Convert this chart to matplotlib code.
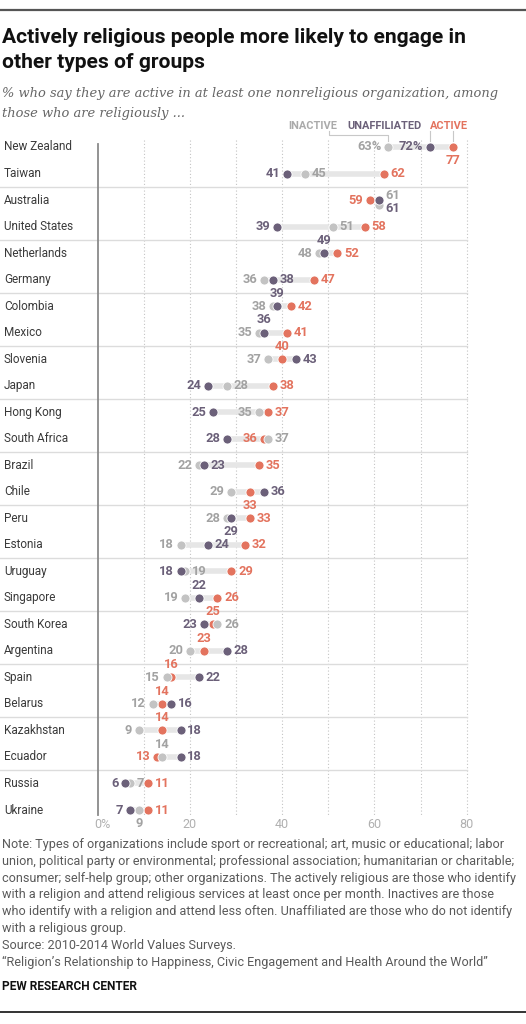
import matplotlib.pyplot as plt

# data (% active in a nonreligious organization)
countries = ["New Zealand", "Taiwan", "Australia", "United States", "Netherlands",
             "Germany", "Colombia", "Mexico", "Slovenia", "Japan", "Hong Kong",
             "South Africa", "Brazil", "Chile", "Peru", "Estonia", "Uruguay",
             "Singapore", "South Korea", "Argentina", "Spain", "Belarus",
             "Kazakhstan", "Ecuador", "Russia", "Ukraine"]
inactive = [63, 45, 61, 51, 48, 36, 38, 35, 37, 28, 35, 37, 22, 29, 28, 18, 19, 19,
            26, 20, 15, 12, 9, 14, 7, 9]
unaffiliated = [72, 41, 61, 39, 49, 38, 39, 36, 43, 24, 25, 28, 23, 36, 29, 24, 18,
                22, 23, 28, 22, 16, 18, 18, 6, 7]
active = [77, 62, 59, 58, 52, 47, 42, 41, 40, 38, 37, 36, 35, 33, 33, 32, 29, 26,
          25, 23, 16, 14, 14, 13, 11, 11]
ticks = [0, 20, 40, 60, 80]
tick_labels = ["0%", "20", "40", "60", "80"]

# where each number sits next to its dot: l/r = left/right, a/b = above/below
pos_inactive = ["l", "r", "ra", "r", "l", "l", "l", "l", "l", "r", "l", "r", "l",
                "l", "l", "l", "r", "l", "r", "l", "l", "l", "l", "a", "r", "b"]
pos_unaff = ["l", "l", "rb", "l", "a", "r", "a", "a", "r", "l", "l", "l", "r",
             "r", "b", "r", "l", "a", "l", "r", "r", "r", "r", "r", "l", "l"]
pos_active = ["b", "r", "l", "r", "r", "r", "r", "r", "a", "r", "r", "l", "r",
              "b", "r", "r", "r", "r", "a", "a", "a", "a", "a", "l", "r", "r"]

GRAY = "#c3c3c3"
GRAY_TXT = "#a2a2a2"
PURPLE = "#6b6079"
RED = "#e3735e"
BAR = "#e6e6e6"

W, H = 526, 1024
PX = 369.2 / 80          # pixels per percentage point
X0 = 97.5                # pixel of 0%
Y0, DY = 147, 26.52      # pixel of first row, row step

fig = plt.figure(figsize=(W / 100, H / 100), dpi=100)
ax = fig.add_axes([0, 0, 1, 1])
ax.set_xlim(-X0 / PX, (W - X0) / PX)
ax.set_ylim((H - Y0) / DY, -Y0 / DY)
ax.axis("off")


def row_of(py):
    return (py - Y0) / DY


def col_of(px):
    return (px - X0) / PX


def fpos(px, py):
    return px / W, 1 - py / H


plt.rcParams["font.family"] = ["Roboto", "DejaVu Sans"]

# frame rules
fig.add_artist(plt.Line2D([0, 1], [1 - 10 / H, 1 - 10 / H], color="#555555", lw=1.6))
fig.add_artist(plt.Line2D([0, 1], [1 - 1012 / H, 1 - 1012 / H], color="#333333", lw=1.4))

# grid
for g in range(10, 81, 10):
    ax.plot([g, g], [row_of(140), row_of(815)], color="#c4c4c4", lw=0.8,
            ls=(0, (1, 2)), zorder=1)
ax.plot([0, 0], [row_of(144), row_of(815)], color="#8a8a8a", lw=1.3, zorder=2)

# group separators
n = len(countries)
for k in range(2, n, 2):
    ax.plot([col_of(0), 80], [k - 0.5, k - 0.5], color="#dcdcdc", lw=1.0, zorder=1)

for t, lab in zip(ticks, tick_labels):
    ax.text(t - (0.8 if t == 0 else 0), row_of(824), lab, ha="left" if t == 0 else "center",
            va="center", fontsize=9, color="#b0b0b0")

offs = {"l": (-4.8, 0, "right"), "r": (4.8, 0, "left"),
        "a": (0, 9.2, "center"), "b": (0, -9.8, "center"),
        "ra": (4.8, 3.2, "left"), "rb": (4.8, -6.0, "left")}

for i, c in enumerate(countries):
    ax.text(col_of(4), i, c, ha="left", va="center", fontsize=8.5, color="#3a3a3a")
    vals = [inactive[i], unaffiliated[i], active[i]]
    ax.plot([min(vals), max(vals)], [i, i], color=BAR, lw=4.0, solid_capstyle="butt", zorder=3)
    gy = i + (0.17 if inactive[i] == unaffiliated[i] else 0)
    ax.plot(active[i], i, "o", ms=6.5, color=RED, mec="white", mew=0.6, zorder=4)
    ax.plot(inactive[i], gy, "o", ms=6.5, color=GRAY, mec="white", mew=0.6, zorder=5)
    ax.plot(unaffiliated[i], i, "o", ms=6.5, color=PURPLE, mec="white", mew=0.6, zorder=6)
    for v, p, col in [(inactive[i], pos_inactive[i], GRAY_TXT),
                      (unaffiliated[i], pos_unaff[i], PURPLE),
                      (active[i], pos_active[i], RED)]:
        dx, dy, ha = offs[p]
        s = f"{v}%" if (i == 0 and col != RED) else f"{v}"
        ax.annotate(s, (v, i), xytext=(dx, dy), textcoords="offset points",
                    ha=ha, va="center", fontsize=9.3, fontweight="bold", color=col, zorder=7)

# legend with leader lines
legend_y = row_of(126)
ax.text(col_of(288), legend_y, "INACTIVE", ha="left", va="center",
        fontsize=7.9, fontweight="bold", color="#aaaaaa")
ax.text(col_of(347), legend_y, "UNAFFILIATED", ha="left", va="center",
        fontsize=7.9, fontweight="bold", color=PURPLE)
ax.text(col_of(430), legend_y, "ACTIVE", ha="left", va="center",
        fontsize=7.9, fontweight="bold", color=RED)
lc = "#c8c8c8"
xi = col_of(329)
ax.plot([xi, xi, inactive[0], inactive[0]], [row_of(131), row_of(135), row_of(135), row_of(141)],
        color=lc, lw=0.8, zorder=2)
ax.plot([unaffiliated[0], unaffiliated[0]], [row_of(131), row_of(141)], color=lc, lw=0.8, zorder=2)
ax.plot([active[0], active[0]], [row_of(131), row_of(141)], color=lc, lw=0.8, zorder=2)

# titles
fig.text(*fpos(2, 43), "Actively religious people more likely to engage in",
         fontsize=15.1, fontweight="bold", color="#111111", va="baseline")
fig.text(*fpos(2, 68), "other types of groups", fontsize=15.1, fontweight="bold",
         color="#111111", va="baseline")
fig.text(*fpos(2, 97), "% who say they are active in at least one nonreligious organization, among",
         fontsize=9.4, style="italic", family=["DejaVu Serif"], color="#666666", va="baseline")
fig.text(*fpos(2, 117), "those who are religiously ...", fontsize=9.4, style="italic",
         family=["DejaVu Serif"], color="#666666", va="baseline")

notes = ["Note: Types of organizations include sport or recreational; art, music or educational; labor",
         "union, political party or environmental; professional association; humanitarian or charitable;",
         "consumer; self-help group; other organizations. The actively religious are those who identify",
         "with a religion and attend religious services at least once per month. Inactives are those",
         "who identify with a religion and attend less often. Unaffiliated are those who do not identify",
         "with a religious group.",
         "Source: 2010-2014 World Values Surveys.",
         "\u201cReligion\u2019s Relationship to Happiness, Civic Engagement and Health Around the World\u201d"]
for j, line in enumerate(notes):
    fig.text(*fpos(2, 848 + j * 16.8), line, fontsize=9.1, color="#5a5a5a", va="baseline")
fig.text(*fpos(2, 990), "PEW RESEARCH CENTER", fontsize=8.6, fontweight="bold",
         color="#111111", va="baseline")

fig.savefig("out.png", dpi=100)
